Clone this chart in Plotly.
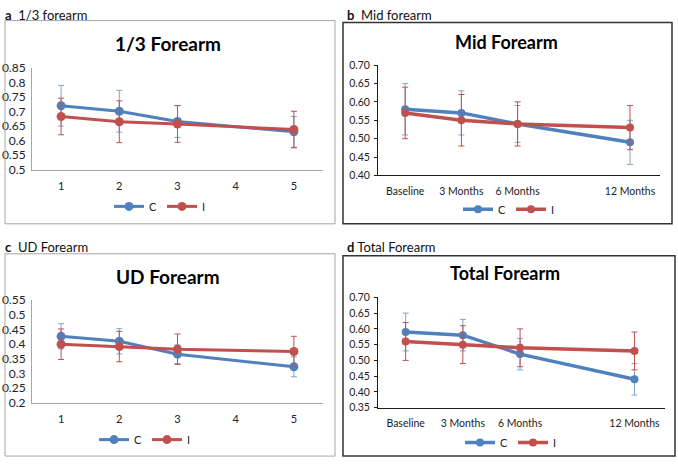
import plotly.graph_objects as go

W, H = 678, 465

# ---------------- data ----------------
x_ac = [1, 2, 3, 5]
x_ac_ticks = [1, 2, 3, 4, 5]
x_bd = [0, 3, 6, 12]
x_bd_labels = ["Baseline", "3 Months", "6 Months", "12 Months"]

# a: 1/3 forearm
a_C = [0.720, 0.701, 0.666, 0.630]
a_C_err = [0.070, 0.072, 0.055, 0.053]
a_I = [0.683, 0.665, 0.657, 0.638]
a_I_err = [0.063, 0.072, 0.063, 0.063]

# b: Mid forearm
b_C = [0.58, 0.57, 0.54, 0.49]
b_C_err = [0.07, 0.06, 0.05, 0.06]
b_I = [0.57, 0.55, 0.54, 0.53]
b_I_err = [0.07, 0.07, 0.06, 0.06]

# c: UD forearm
c_C = [0.427, 0.410, 0.366, 0.323]
c_C_err = [0.043, 0.043, 0.032, 0.034]
c_I = [0.400, 0.392, 0.383, 0.375]
c_I_err = [0.052, 0.052, 0.052, 0.052]

# d: Total forearm
d_C = [0.59, 0.58, 0.52, 0.44]
d_C_err = [0.06, 0.05, 0.05, 0.05]
d_I = [0.56, 0.55, 0.54, 0.53]
d_I_err = [0.06, 0.06, 0.06, 0.06]

BLUE = "#4F81BD"
RED = "#C0504D"
BLUE_ERR = "#7FA3D1"
RED_ERR = "#C0504D"
FONT = "Lato"


def px(x):
    return x / W


def py(y):
    return 1 - y / H


fig = go.Figure()

panels = [
    ("", x_ac, a_C, a_C_err, a_I, a_I_err, (32, 323, 62, 167), [0.5, 0.85], "ac", "legend", (160, 205)),
    ("2", x_bd, b_C, b_C_err, b_I, b_I_err, (378, 660, 59, 173), [0.40, 0.70], "bd", "legend2", (509, 208)),
    ("3", x_ac, c_C, c_C_err, c_I, c_I_err, (32, 323, 302, 408), [0.2, 0.55], "ac", "legend3", (145, 446)),
    ("4", x_bd, d_C, d_C_err, d_I, d_I_err, (378, 665, 299, 413), [0.35, 0.70], "bd", "legend4", (511, 449)),
]

layout_upd = {}
for key, xs, C, Ce, I, Ie, box, yr, style, leg, legpos in panels:
    x0, x1, y0, y1 = box
    xa = "x" + key
    ya = "y" + key
    thick = style == "bd"
    lw = 3.5 if thick else 3
    ms = 8 if thick else 9
    for name, vals, err, col, ecol in [("C", C, Ce, BLUE, BLUE_ERR), ("I", I, Ie, RED, RED_ERR)]:
        fig.add_trace(go.Scatter(
            x=xs, y=vals, name=name, mode="lines+markers",
            xaxis=xa, yaxis=ya, legend=leg,
            line=dict(color=col, width=lw),
            marker=dict(color=col, size=ms, line=dict(width=0)),
            error_y=dict(type="data", array=err, visible=True, color=ecol,
                         thickness=1, width=3),
        ))
    if style == "ac":
        lc = "#A6A6A6"
        xdict = dict(range=[0.5, 5.5], tickvals=x_ac_ticks, ticktext=[str(t) for t in x_ac_ticks])
        yfont = 12
        xfont = 11
        yticks = ""
    else:
        lc = "#1a1a1a"
        xdict = dict(range=[-1.45, 13.6], tickvals=x_bd, ticktext=x_bd_labels)
        yfont = 10.5
        xfont = 10.5
        yticks = "outside"
    xname = "xaxis" + key
    yname = "yaxis" + key
    layout_upd[xname] = dict(
        domain=[px(x0), px(x1)], anchor=ya, showgrid=False, zeroline=False,
        showline=True, linecolor=lc, linewidth=1, ticks="",
        tickfont=dict(family=FONT, size=xfont, color="#222"),
        ticklabelstandoff=6, fixedrange=True, **xdict)
    layout_upd[yname] = dict(
        domain=[py(y1), py(y0)], anchor=xa, range=yr, dtick=0.05,
        tickformat=".2f" if style == "bd" else "", showgrid=False, zeroline=False,
        showline=True, linecolor=lc, linewidth=1, ticks=yticks, ticklen=3,
        tickcolor=lc, tickfont=dict(family=FONT, size=yfont, color="#222"),
        ticklabelstandoff=2 if style == "bd" else 3, fixedrange=True)
    layout_upd[leg] = dict(
        orientation="h", x=px(legpos[0]), y=py(legpos[1]),
        xanchor="center", yanchor="middle", bgcolor="rgba(0,0,0,0)",
        font=dict(family=FONT, size=11, color="#222"), itemwidth=30,
        tracegroupgap=0)

fig.update_layout(**layout_upd)

# panel borders
shapes = [
    dict(type="rect", xref="paper", yref="paper", x0=px(5), x1=px(335), y0=py(223), y1=py(13),
         line=dict(color="#A6A6A6", width=1)),
    dict(type="rect", xref="paper", yref="paper", x0=px(343), x1=px(672), y0=py(223), y1=py(15),
         line=dict(color="#333333", width=1.5)),
    dict(type="rect", xref="paper", yref="paper", x0=px(5), x1=px(335), y0=py(463), y1=py(254),
         line=dict(color="#A6A6A6", width=1)),
    dict(type="rect", xref="paper", yref="paper", x0=px(343), x1=px(675), y0=py(463), y1=py(256),
         line=dict(color="#333333", width=1.5)),
]

ann = []
labels = [
    ("<b>a</b>  1/3 forearm", 3, 7),
    ("<b>b</b>  Mid forearm", 345, 7),
    ("<b>c</b>  UD Forearm", 3, 247),
    ("<b>d</b> Total Forearm", 345, 247),
]
for t, x, y in labels:
    ann.append(dict(text=t, x=px(x), y=py(y), xref="paper", yref="paper", xanchor="left",
                    yanchor="middle", showarrow=False, font=dict(family=FONT, size=13, color="#111")))

titles = [
    ("<b>1/3 Forearm</b>", 168, 37, 19),
    ("<b>Mid Forearm</b>", 506, 35, 18),
    ("<b>UD Forearm</b>", 168, 277, 19),
    ("<b>Total Forearm</b>", 505, 274, 18),
]
for t, x, y, s in titles:
    ann.append(dict(text=t, x=px(x), y=py(y), xref="paper", yref="paper", xanchor="center",
                    yanchor="middle", showarrow=False, font=dict(family=FONT, size=s, color="#000")))

fig.update_layout(
    width=W, height=H, margin=dict(l=0, r=0, t=0, b=0),
    paper_bgcolor="white", plot_bgcolor="rgba(0,0,0,0)",
    shapes=shapes, annotations=ann, showlegend=True,
    font=dict(family=FONT),
)

fig.write_html("out.html", config={"displayModeBar": False},
               post_script="document.body.style.margin='0';document.body.style.padding='0';")
